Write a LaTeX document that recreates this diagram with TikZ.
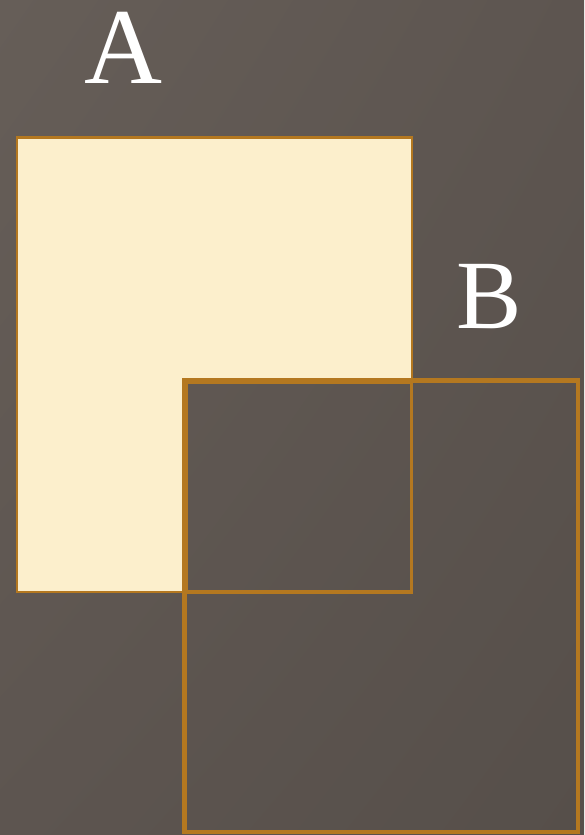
\documentclass[tikz,border=0pt]{standalone}
\usepackage{fontspec}
\setmainfont{Liberation Serif}
\definecolor{bgLight}{RGB}{102,94,88}
\definecolor{bgMid}{RGB}{93,85,80}
\definecolor{bgDark}{RGB}{86,79,74}
\definecolor{setFill}{RGB}{252,239,204}
\definecolor{setEdge}{RGB}{180,120,32}
\usetikzlibrary{positioning,shadings}

\begin{document}
\begin{tikzpicture}[
  x=1pt,y=-1pt,
  thinedge/.style={draw=setEdge,line width=2.2pt},
  thickedge/.style={draw=setEdge,line width=4.5pt},
  setlabel/.style={text=white,anchor=base,inner sep=0pt,text height=0.68em,text depth=0pt}
]
% background
\shade[upper left=bgLight,upper right=bgMid,lower left=bgMid,lower right=bgDark]
  (0,0) rectangle (584,835);
\useasboundingbox (0,0) rectangle (584,835);
% corners of the two sets
\coordinate (Atl) at (17,137.5);
\coordinate (Abr) at (412,592);
\coordinate (Btl) at (184.5,380.5);
\coordinate (Bbr) at (578,832);
% A without B
\fill[setFill] (Atl) -| (Abr |- Btl) -| (Btl |- Abr) -| (Atl) -- cycle;
\draw[thinedge] (Atl) rectangle (Abr);
% B and the overlap
\draw[thickedge] (Btl) rectangle (Bbr);
\draw[draw=setEdge,line width=3.5pt] (186.5,382.5) rectangle (411.5,592);
% labels
\node[setlabel,font=\fontsize{108}{108}\selectfont] (labA) at (123,83) {A};
\node[setlabel,font=\fontsize{98}{98}\selectfont] (labB) at (489,328) {B};
\end{tikzpicture}
\end{document}
